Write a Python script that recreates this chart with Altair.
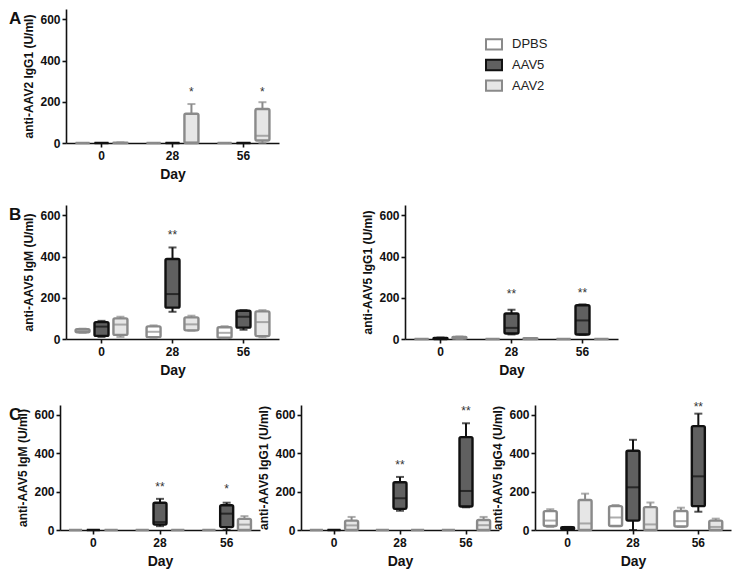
import altair as alt
import pandas as pd

FONT = "Liberation Sans"
DAYS = ["0", "28", "56"]
GROUPS = ["DPBS", "AAV5", "AAV2"]
STROKES = ["#8a8a8a", "#111111", "#8a8a8a"]
FILLS = ["#ffffff", "#606060", "#e6e6e6"]

# each entry: [min, q1, median, q3, max] for day 0, 28, 56
A_DPBS = [[0, 0, 0, 0, 0], [0, 0, 0, 0, 0], [0, 0, 0, 0, 0]]
A_AAV5 = [[0, 0, 0, 0, 0], [0, 0, 0, 0, 0], [0, 0, 0, 0, 0]]
A_AAV2 = [[0, 0, 0, 2, 3], [0, 0, 3, 142, 189], [0, 12, 35, 165, 198]]
A_STAR_DAY = ["28", "56"]
A_STAR_GROUP = ["AAV2", "AAV2"]
A_STAR_Y = [245, 245]
A_STAR_TEXT = ["*", "*"]

B1_DPBS = [[30, 33, 40, 47, 50], [5, 9, 35, 61, 66], [4, 6, 30, 57, 62]]
B1_AAV5 = [[10, 15, 60, 82, 88], [132, 152, 218, 388, 444], [45, 55, 108, 137, 140]]
B1_AAV2 = [[10, 20, 70, 100, 108], [40, 42, 71, 105, 113], [8, 14, 82, 134, 140]]
B1_STAR_DAY = ["28"]
B1_STAR_GROUP = ["AAV5"]
B1_STAR_Y = [505]
B1_STAR_TEXT = ["**"]

B2_DPBS = [[0, 0, 0, 0, 0], [0, 0, 0, 0, 0], [0, 0, 0, 0, 0]]
B2_AAV5 = [[0, 0, 2, 5, 7], [22, 27, 54, 124, 142], [20, 22, 90, 164, 168]]
B2_AAV2 = [[0, 2, 6, 10, 12], [0, 0, 2, 4, 5], [0, 0, 0, 0, 0]]
B2_STAR_DAY = ["28", "56"]
B2_STAR_GROUP = ["AAV5", "AAV5"]
B2_STAR_Y = [216, 224]
B2_STAR_TEXT = ["**", "**"]

C1_DPBS = [[0, 0, 0, 0, 0], [0, 0, 0, 0, 0], [0, 0, 0, 0, 0]]
C1_AAV5 = [[0, 0, 0, 0, 0], [20, 28, 41, 142, 162], [0, 15, 85, 129, 142]]
C1_AAV2 = [[0, 0, 0, 0, 0], [0, 0, 0, 0, 0], [0, 0, 28, 58, 72]]
C1_STAR_DAY = ["28", "56"]
C1_STAR_GROUP = ["AAV5", "AAV5"]
C1_STAR_Y = [224, 211]
C1_STAR_TEXT = ["**", "*"]

C2_DPBS = [[0, 0, 0, 0, 0], [0, 0, 0, 0, 0], [0, 0, 0, 0, 0]]
C2_AAV5 = [[0, 0, 0, 0, 0], [100, 110, 165, 248, 276], [118, 122, 203, 483, 555]]
C2_AAV2 = [[0, 0, 24, 49, 68], [0, 0, 0, 0, 0], [0, 0, 25, 52, 68]]
C2_STAR_DAY = ["28", "56"]
C2_STAR_GROUP = ["AAV5", "AAV5"]
C2_STAR_Y = [337, 620]
C2_STAR_TEXT = ["**", "**"]

C3_DPBS = [[16, 21, 49, 98, 108], [20, 21, 65, 124, 130], [16, 18, 46, 99, 116]]
C3_AAV5 = [[0, 3, 10, 14, 16], [0, 49, 222, 412, 469], [95, 124, 279, 540, 605]]
C3_AAV2 = [[0, 0, 34, 156, 189], [0, 0, 29, 119, 143], [0, 0, 16, 49, 59]]
C3_STAR_DAY = ["56"]
C3_STAR_GROUP = ["AAV5"]
C3_STAR_Y = [640]
C3_STAR_TEXT = ["**"]


def box_df(dpbs, aav5, aav2):
    rows = []
    for g, series in zip(GROUPS, [dpbs, aav5, aav2]):
        for d, s in zip(DAYS, series):
            rows.append(dict(day=d, group=g, lo=s[0], q1=s[1], med=s[2], q3=s[3], hi=s[4]))
    return pd.DataFrame(rows)


def star_df(days, groups, ys, texts):
    return pd.DataFrame({"day": days, "group": groups, "y": ys, "t": texts})


def panel(df, stars, ytitle, w, h, letter, letter_dx, box_w=14):
    xenc = alt.X("day:N", sort=DAYS,
                 scale=alt.Scale(paddingInner=0.2, paddingOuter=0.1),
                 axis=alt.Axis(title="Day", labelAngle=0, titleFontSize=14,
                               titlePadding=6, labelPadding=3, tickSize=4))
    xoff = alt.XOffset("group:N", sort=GROUPS,
                       scale=alt.Scale(paddingInner=0, paddingOuter=0))
    yscale = alt.Scale(domain=[0, 650], nice=False)
    yaxis = alt.Axis(title=ytitle, values=[0, 200, 400, 600], tickSize=4,
                     labelPadding=2, titlePadding=4)

    def Y(f):
        return alt.Y(f + ":Q", scale=yscale, axis=yaxis)

    stroke = alt.Stroke("group:N", scale=alt.Scale(domain=GROUPS, range=STROKES), legend=None)
    fill = alt.Fill("group:N", scale=alt.Scale(domain=GROUPS, range=FILLS), legend=None)
    col = alt.Color("group:N", scale=alt.Scale(domain=GROUPS, range=STROKES), legend=None)

    base = alt.Chart(df).encode(x=xenc, xOffset=xoff)
    whisk = base.mark_rule(strokeWidth=2).encode(y=Y("lo"), y2="hi:Q", stroke=stroke)
    box = base.mark_bar(width=box_w, strokeWidth=2.4, cornerRadius=1.5).encode(
        y=Y("q1"), y2="q3:Q", fill=fill, stroke=stroke)
    med = base.mark_tick(size=box_w, thickness=2).encode(y=Y("med"), color=col)
    capt = base.mark_tick(size=8, thickness=2).encode(y=Y("hi"), color=col)
    capb = base.mark_tick(size=8, thickness=2).encode(y=Y("lo"), color=col)
    st = alt.Chart(stars).mark_text(fontSize=12, color="#333333", font=FONT).encode(
        x=xenc, xOffset=xoff, y=Y("y"), text="t:N")
    layers = [whisk, box, med, capt, capb, st]
    if letter:
        lt = alt.Chart(pd.DataFrame({"t": [letter]})).mark_text(
            align="left", baseline="top", fontSize=17, fontWeight="bold",
            font=FONT, color="#111111").encode(
            text="t:N", x=alt.value(letter_dx), y=alt.value(2))
        layers.append(lt)
    return alt.layer(*layers).properties(width=w, height=h)


def spacer(w, h=10):
    return alt.Chart(pd.DataFrame({"v": [0]})).mark_point(opacity=0, size=1).encode(
        x=alt.value(w / 2), y=alt.value(h / 2)).properties(width=w, height=h)


def legend_chart():
    ldf = pd.DataFrame({"group": GROUPS})
    yenc = alt.Y("group:N", sort=GROUPS, axis=None,
                 scale=alt.Scale(range=[25, 87], paddingOuter=0, paddingInner=0))
    sym = alt.Chart(ldf).mark_point(
        shape="M-1,-0.65L1,-0.65L1,0.65L-1,0.65Z", size=256, filled=True,
        strokeWidth=2, opacity=1).encode(
        y=yenc, x=alt.value(9),
        fill=alt.Fill("group:N", scale=alt.Scale(domain=GROUPS, range=FILLS), legend=None),
        stroke=alt.Stroke("group:N", scale=alt.Scale(domain=GROUPS, range=STROKES), legend=None))
    txt = alt.Chart(ldf).mark_text(align="left", fontSize=13, font=FONT, color="#222222").encode(
        y=yenc, x=alt.value(27), text="group:N")
    return alt.layer(sym, txt).properties(width=80, height=110)


def row(*cells):
    return alt.hconcat(*cells, spacing=0, bounds="flush").resolve_scale(
        x="independent", y="independent", xOffset="independent")


HAB = 134
HC = 125

pA = panel(box_df(A_DPBS, A_AAV5, A_AAV2),
           star_df(A_STAR_DAY, A_STAR_GROUP, A_STAR_Y, A_STAR_TEXT),
           "anti-AAV2 IgG1 (U/ml)", 213, HAB, "A", -57)
pB1 = panel(box_df(B1_DPBS, B1_AAV5, B1_AAV2),
            star_df(B1_STAR_DAY, B1_STAR_GROUP, B1_STAR_Y, B1_STAR_TEXT),
            "anti-AAV5 IgM (U/ml)", 213, HAB, "B", -57)
pB2 = panel(box_df(B2_DPBS, B2_AAV5, B2_AAV2),
            star_df(B2_STAR_DAY, B2_STAR_GROUP, B2_STAR_Y, B2_STAR_TEXT),
            "anti-AAV5 IgG1 (U/ml)", 213, HAB, None, 0)
pC1 = panel(box_df(C1_DPBS, C1_AAV5, C1_AAV2),
            star_df(C1_STAR_DAY, C1_STAR_GROUP, C1_STAR_Y, C1_STAR_TEXT),
            "anti-AAV5 IgM (U/ml)", 200, HC, "C", -51, 13)
pC2 = panel(box_df(C2_DPBS, C2_AAV5, C2_AAV2),
            star_df(C2_STAR_DAY, C2_STAR_GROUP, C2_STAR_Y, C2_STAR_TEXT),
            "anti-AAV5 IgG1 (U/ml)", 198, HC, None, 0, 13)
pC3 = panel(box_df(C3_DPBS, C3_AAV5, C3_AAV2),
            star_df(C3_STAR_DAY, C3_STAR_GROUP, C3_STAR_Y, C3_STAR_TEXT),
            "anti-AAV5 IgG4 (U/ml)", 196, HC, None, 0, 13)

rowA = row(spacer(6), pA, spacer(206), legend_chart())
rowB = row(spacer(6), pB1, spacer(126), pB2)
rowC = row(pC1, spacer(41), pC2, spacer(36), pC3)

chart = alt.vconcat(rowA, rowB, rowC, spacing=22, padding=0).resolve_scale(
    x="independent", y="independent", xOffset="independent"
).configure_view(stroke="transparent").configure_axis(
    labelFont=FONT, labelFontWeight="bold", labelFontSize=12, labelColor="#111111",
    titleFont=FONT, titleFontWeight="bold", titleFontSize=12, titleColor="#111111",
    domainColor="#111111", tickColor="#111111", domainWidth=1.6, tickWidth=1.6,
    grid=False,
)

chart.save("out.html", embed_options={"renderer": "svg", "actions": False})
